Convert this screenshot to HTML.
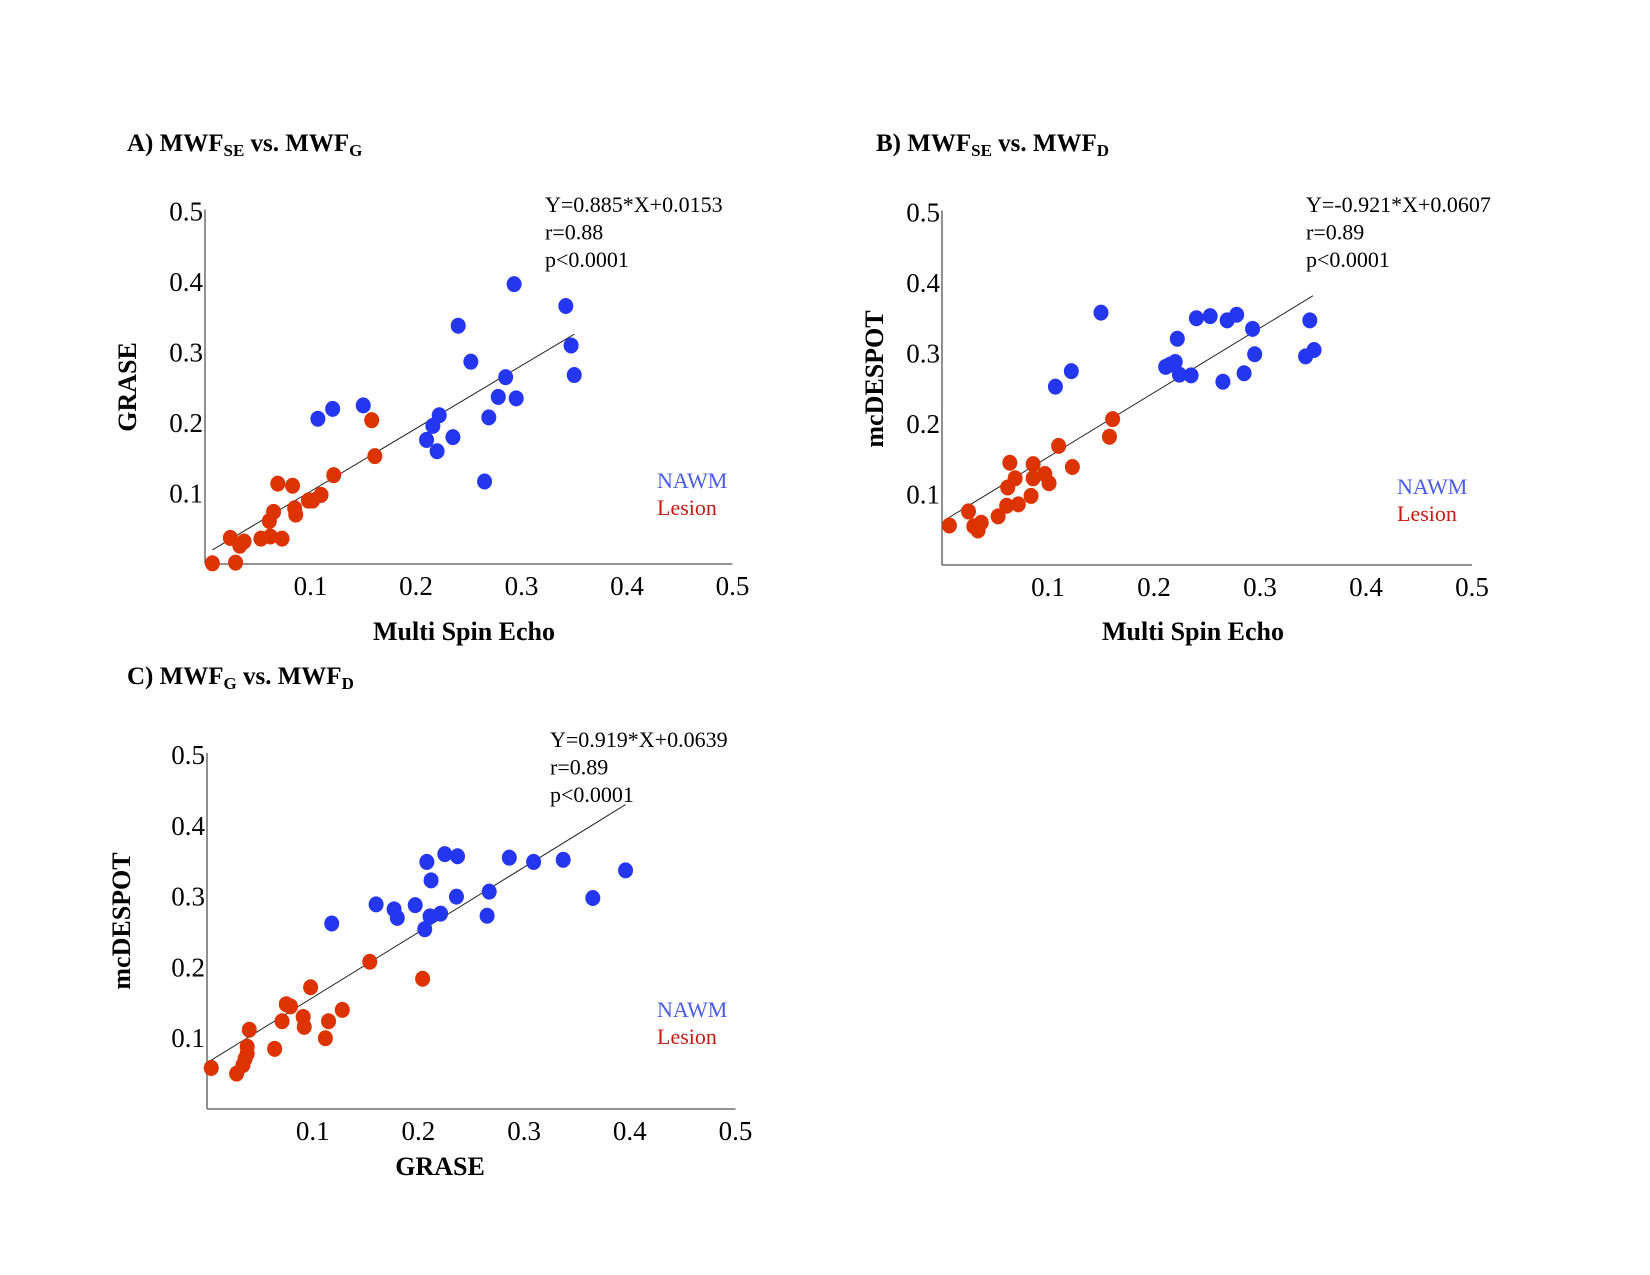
<!DOCTYPE html>
<html><head><meta charset="utf-8">
<style>
html,body{margin:0;padding:0;background:#fff;}
svg{display:block;font-family:"Liberation Serif",serif;}
</style></head>
<body>
<svg id="fig" width="1650" height="1275" viewBox="0 0 1650 1275">
  <text x="127" y="151" font-size="25" font-weight="bold">A) MWF<tspan font-size="17" dy="5">SE</tspan><tspan dy="-5"> vs. MWF</tspan><tspan font-size="17" dy="5">G</tspan></text>
  <text x="876" y="151" font-size="25" font-weight="bold">B) MWF<tspan font-size="17" dy="5">SE</tspan><tspan dy="-5"> vs. MWF</tspan><tspan font-size="17" dy="5">D</tspan></text>
  <text x="127" y="684" font-size="25" font-weight="bold">C) MWF<tspan font-size="17" dy="5">G</tspan><tspan dy="-5"> vs. MWF</tspan><tspan font-size="17" dy="5">D</tspan></text>
</svg>
<script>
// Panel A data
const ticks = [0.1,0.2,0.3,0.4,0.5];
const aLesionX = [0.007,0.029,0.024,0.033,0.037,0.053,0.062,0.073,0.061,0.065,0.086,0.085,0.069,0.083,0.098,0.102,0.11,0.122,0.161,0.158];
const aLesionY = [0.001,0.002,0.037,0.026,0.032,0.036,0.039,0.036,0.061,0.074,0.07,0.079,0.114,0.111,0.09,0.09,0.098,0.126,0.153,0.204];
const aNawmX = [0.107,0.121,0.15,0.21,0.216,0.222,0.22,0.235,0.24,0.252,0.265,0.269,0.278,0.285,0.295,0.293,0.342,0.347,0.35];
const aNawmY = [0.206,0.22,0.225,0.176,0.196,0.211,0.16,0.18,0.338,0.287,0.117,0.208,0.237,0.265,0.235,0.397,0.366,0.31,0.268];
const aLine = [0.007,0.02,0.35,0.326];
// Panel B data
const bLesionX = [0.007,0.025,0.03,0.034,0.037,0.053,0.061,0.072,0.084,0.062,0.069,0.064,0.086,0.086,0.097,0.101,0.11,0.123,0.158,0.161];
const bLesionY = [0.056,0.076,0.055,0.049,0.06,0.069,0.084,0.086,0.098,0.11,0.123,0.145,0.143,0.123,0.129,0.116,0.169,0.139,0.182,0.207];
const bNawmX = [0.107,0.122,0.15,0.211,0.22,0.215,0.224,0.235,0.222,0.24,0.253,0.265,0.269,0.278,0.285,0.293,0.295,0.343,0.347,0.351];
const bNawmY = [0.253,0.275,0.358,0.281,0.288,0.284,0.27,0.269,0.321,0.35,0.353,0.26,0.347,0.355,0.272,0.335,0.299,0.296,0.347,0.305];
const bLine = [0.003,0.064,0.35,0.382];
// Panel C data
const cLesionX = [0.004,0.028,0.034,0.036,0.038,0.038,0.04,0.064,0.071,0.075,0.079,0.091,0.092,0.098,0.112,0.115,0.128,0.154,0.204];
const cLesionY = [0.058,0.05,0.062,0.071,0.088,0.078,0.112,0.085,0.124,0.148,0.145,0.13,0.116,0.172,0.1,0.124,0.14,0.208,0.184];
const cNawmX = [0.118,0.16,0.177,0.18,0.197,0.206,0.208,0.212,0.211,0.221,0.225,0.237,0.236,0.265,0.267,0.286,0.309,0.337,0.365,0.396];
const cNawmY = [0.262,0.289,0.282,0.27,0.288,0.254,0.349,0.323,0.272,0.276,0.36,0.357,0.3,0.273,0.307,0.355,0.349,0.352,0.298,0.337];
const cLine = [0.003,0.068,0.396,0.43];

const NS = 'http://www.w3.org/2000/svg';
const svg = document.getElementById('fig');
function mk(tag, attrs, parent, txt){
  const e = document.createElementNS(NS, tag);
  for (const k in attrs) e.setAttribute(k, attrs[k]);
  if (txt !== undefined) e.textContent = txt;
  (parent||svg).appendChild(e);
  return e;
}
function panel(id, x0, y0, sx, sy, lx, ly, nx, ny, line, xTitle, xTitleX, xTitleY, yTitle, yTitleX, yTitleY, eq, eqX, eqY, legX, legY){
  const g = mk('g', {});
  
  
  const X = v => x0 + v*sx, Y = v => y0 - v*sy;
  const ya = mk('line', {x1:x0, y1:Y(0.5)-2, x2:x0, y2:y0, stroke:'#555', 'stroke-width':1.3}, g);
  
  
  const xa = mk('line', {x1:x0, y1:y0, x2:X(0.5), y2:y0, stroke:'#555', 'stroke-width':1.3}, g);
  
  
  ticks.forEach(t => {
    const a = mk('text', {x:X(t), y:y0+31, 'font-size':27, 'text-anchor':'middle'}, g, t.toFixed(1));
    
    
    const b = mk('text', {x:x0-2, y:Y(t)+9, 'font-size':27, 'text-anchor':'end'}, g, t.toFixed(1));
    
    
  });
  const rl = mk('line', {x1:X(line[0]), y1:Y(line[1]), x2:X(line[2]), y2:Y(line[3]), stroke:'#222', 'stroke-width':1}, g);
  
  
  lx.forEach((v,i) => {
    const c = mk('ellipse', {cx:X(v), cy:Y(ly[i]), rx:7.5, ry:8, fill:'#dd3300'}, g);
    
    
  });
  nx.forEach((v,i) => {
    const c = mk('ellipse', {cx:X(v), cy:Y(ny[i]), rx:7.5, ry:8, fill:'#2536f0'}, g);
    
    
  });
  const xt = mk('text', {x:xTitleX, y:xTitleY, 'font-size':26, 'font-weight':'bold', 'text-anchor':'middle'}, g, xTitle);
  
  
  const yt = mk('text', {x:0, y:0, 'font-size':26, 'font-weight':'bold', 'text-anchor':'middle', transform:`translate(${yTitleX},${yTitleY}) rotate(-90)`}, g, yTitle);
  
  
  eq.forEach((s,i) => {
    const t = mk('text', {x:eqX, y:eqY + i*27.5, 'font-size':22}, g, s);
    
    
  });
  const l1 = mk('text', {x:legX, y:legY, 'font-size':22, fill:'#4a5ce8'}, g, 'NAWM');
  
  
  const l2 = mk('text', {x:legX, y:legY+27, 'font-size':22, fill:'#c41a10'}, g, 'Lesion');
  
  
}
panel('a', 205, 564, 1055, 705, aLesionX, aLesionY, aNawmX, aNawmY, aLine,
  'Multi Spin Echo', 464, 640, 'GRASE', 136, 387,
  ['Y=0.885*X+0.0153','r=0.88','p<0.0001'], 545, 212, 657, 488);
panel('b', 942, 565, 1060, 705, bLesionX, bLesionY, bNawmX, bNawmY, bLine,
  'Multi Spin Echo', 1193, 640, 'mcDESPOT', 883, 379,
  ['Y=-0.921*X+0.0607','r=0.89','p<0.0001'], 1306, 212, 1397, 494);
panel('c', 207, 1109, 1057, 708, cLesionX, cLesionY, cNawmX, cNawmY, cLine,
  'GRASE', 440, 1175, 'mcDESPOT', 130, 921,
  ['Y=0.919*X+0.0639','r=0.89','p<0.0001'], 550, 747, 657, 1017);
</script>
</body></html>
